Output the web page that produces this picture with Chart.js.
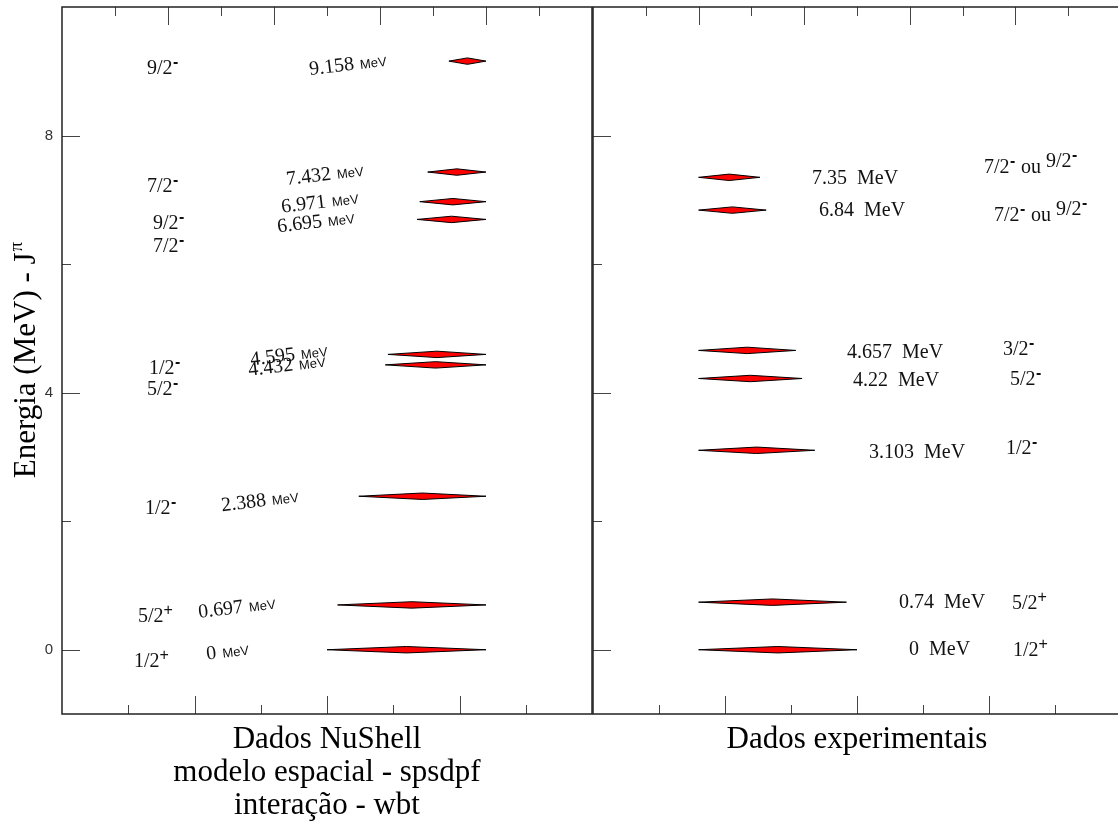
<!DOCTYPE html>
<html>
<head>
<meta charset="utf-8">
<script src="https://cdn.jsdelivr.net/npm/chart.js@4.4.1/dist/chart.umd.min.js"></script>
<style>
  html, body { margin: 0; padding: 0; background: #fff; overflow: hidden; }
  #wrap { position: relative; width: 1118px; height: 823px; }
  #calc { position: absolute; left: 0; top: 0; }
  #exp { position: absolute; left: 590px; top: 0; }
</style>
</head>
<body>
<div id="wrap">
  <canvas id="calc" width="594" height="823"></canvas>
  <canvas id="exp" width="540" height="823"></canvas>
</div>
<script>
// NuShell levels (spsdpf / wbt)
const calcEnergy = [0, 0.697, 2.388, 4.432, 4.595, 6.695, 6.971, 7.432, 9.158];
const calcSpin = ["1/2+", "5/2+", "1/2-", "5/2-", "1/2-", "7/2-", "9/2-", "7/2-", "9/2-"];
const calcStart = [5.0, 5.2, 5.6, 6.1, 6.15, 6.7, 6.75, 6.9, 7.3];
const calcEnd = [8, 8, 8, 8, 8, 8, 8, 8, 8];

// experimental levels
const expEnergy = [0, 0.74, 3.103, 4.22, 4.657, 6.84, 7.35];
const expSpin = ["1/2+", "5/2+", "1/2-", "5/2-", "3/2-", "7/2- ou 9/2-", "7/2- ou 9/2-"];
const expStart = [2, 2, 2, 2, 2, 2, 2];
const expEnd = [5.0, 4.8, 4.2, 3.96, 3.84, 3.28, 3.16];

// y axis labels shown
const yLabels = [0, 4, 8];

// label placement (px from chart area left, px from level line)
const calcSpinX = [72, 76, 83, 85, 87, 91, 91, 85, 85];
const calcSpinDy = [10, 10, 11, 23, 13, 26, 20, 13, 6];
const calcTextX = [145, 137, 160, 187, 189, 216, 220, 225, 248];
const calcTextDy = [10, 13, 15, 11, 11, 13, 11, 13, 14];
const expTextX = [316, 306, 276, 260, 254, 226, 219];
const expTextDy = [0, 1, 2, 2, 2, 1, 1];
const expSpinX = [420, 419, 413, 417, 410, 401, 391];
const expSpinDy = [-1, 0, -3, 0, -2, 4, -11];

const HALF = 0.05; // half thickness of the level diamonds (MeV)
const SERIF = "'Liberation Serif', 'Times New Roman', serif";
const SANS = "'Liberation Sans', Arial, sans-serif";

function levelDatasets(energies, starts, ends) {
  return energies.map((e, i) => {
    const x0 = starts[i], x1 = ends[i], xm = (x0 + x1) / 2;
    return {
      data: [
        { x: x0, y: e }, { x: xm, y: e + HALF }, { x: x1, y: e },
        { x: xm, y: e - HALF }, { x: x0, y: e }
      ],
      borderColor: "#000",
      borderWidth: 1,
      backgroundColor: "#ff0000",
      fill: "shape",
      pointRadius: 0,
      tension: 0
    };
  });
}

// draw "7/2-" style label: base text then raised sign
function drawSpin(ctx, x, baseline, str) {
  const parts = str.split(" ou ");
  let cx = x;
  parts.forEach((p, k) => {
    const sign = p.slice(-1);
    const base = p.slice(0, -1);
    const raise = k > 0 ? 6 : 0;
    ctx.font = "20px " + SERIF;
    ctx.fillText(base, cx, baseline - raise);
    cx += ctx.measureText(base).width;
    if (sign === "+") {
      ctx.font = "16px " + SANS;
      ctx.fillText("+", cx, baseline - raise - 7);
      cx += ctx.measureText("+").width;
    } else {
      ctx.font = "bold 16px " + SANS;
      ctx.fillText("-", cx + 0.5, baseline - raise - 7);
      cx += ctx.measureText("-").width + 1;
    }
    if (k < parts.length - 1) {
      ctx.font = "20px " + SERIF;
      ctx.fillText(" ou ", cx, baseline);
      cx += ctx.measureText(" ou ").width;
    }
  });
}

function drawFrameTicks(chart) {
  const { ctx, chartArea: a, scales } = chart;
  const xt = scales.x, xb = scales.xb, y = scales.y;
  ctx.save();
  ctx.strokeStyle = "#444";
  ctx.lineWidth = 1;
  ctx.beginPath();
  for (let v = xt.min + 1; v < xt.max; v++) {
    const px = Math.round(xt.getPixelForValue(v)) + 0.5;
    ctx.moveTo(px, a.top);
    ctx.lineTo(px, a.top + (v % 2 === 0 ? 18 : 9));
  }
  for (let v = xb.min + 1; v < xb.max; v++) {
    const px = Math.round(xb.getPixelForValue(v)) + 0.5;
    ctx.moveTo(px, a.bottom);
    ctx.lineTo(px, a.bottom - (v % 2 === 0 ? 18 : 9));
  }
  y.ticks.forEach(t => {
    if (t.value <= y.min || t.value >= y.max) return;
    const py = Math.round(y.getPixelForValue(t.value)) + 0.5;
    ctx.moveTo(a.left, py);
    ctx.lineTo(a.left + (t.value % 4 === 0 ? 18 : 9), py);
  });
  ctx.stroke();
  ctx.strokeStyle = "#222";
  ctx.lineWidth = 1.5;
  ctx.strokeRect(a.left, a.top, a.width, a.height);
  ctx.restore();
}

const calcText = {
  id: "calcText",
  afterDraw(chart) {
    drawFrameTicks(chart);
    const { ctx, chartArea: a, scales } = chart;
    const y = scales.y;
    ctx.save();
    ctx.fillStyle = "#111";
    ctx.textAlign = "left";
    ctx.textBaseline = "alphabetic";
    calcEnergy.forEach((e, i) => {
      const py = y.getPixelForValue(e);
      drawSpin(ctx, a.left + calcSpinX[i], py + calcSpinDy[i] + 7, calcSpin[i]);
      // tilted energy label
      ctx.save();
      ctx.translate(a.left + calcTextX[i], py + calcTextDy[i]);
      ctx.rotate(-7 * Math.PI / 180);
      ctx.font = "20px " + SERIF;
      const num = String(e);
      ctx.fillText(num, 0, 0);
      const w = ctx.measureText(num).width;
      ctx.font = "13px " + SANS;
      ctx.fillText("MeV", w + 6, 0);
      ctx.restore();
    });
    // y title
    ctx.save();
    ctx.translate(35, (a.top + a.bottom) / 2);
    ctx.rotate(-Math.PI / 2);
    ctx.fillStyle = "#000";
    ctx.font = "31px " + SERIF;
    const base = "Energia (MeV) - J";
    const wb = ctx.measureText(base).width;
    ctx.font = "19px " + SERIF;
    const wp = ctx.measureText("\u03c0").width;
    const start = -(wb + wp) / 2;
    ctx.font = "31px " + SERIF;
    ctx.fillText(base, start, 0);
    ctx.font = "19px " + SERIF;
    ctx.fillText("\u03c0", start + wb + 1, -13);
    ctx.restore();
    // x titles
    ctx.fillStyle = "#000";
    ctx.textAlign = "center";
    ctx.font = "31px " + SERIF;
    const cx = (a.left + a.right) / 2;
    ["Dados NuShell", "modelo espacial - spsdpf", "intera\u00e7\u00e3o - wbt"].forEach((t, k) => {
      ctx.fillText(t, cx, 748 + k * 33);
    });
    ctx.restore();
  }
};

const expText = {
  id: "expText",
  afterDraw(chart) {
    drawFrameTicks(chart);
    const { ctx, chartArea: a, scales } = chart;
    const y = scales.y;
    ctx.save();
    ctx.fillStyle = "#111";
    ctx.textAlign = "left";
    expEnergy.forEach((e, i) => {
      const py = y.getPixelForValue(e);
      ctx.font = "20px " + SERIF;
      ctx.textBaseline = "middle";
      ctx.fillText(String(e) + "  MeV", a.left + expTextX[i], py + expTextDy[i]);
      ctx.textBaseline = "alphabetic";
      drawSpin(ctx, a.left + expSpinX[i], py + expSpinDy[i] + 7, expSpin[i]);
    });
    ctx.fillStyle = "#000";
    ctx.textAlign = "center";
    ctx.font = "31px " + SERIF;
    ctx.fillText("Dados experimentais", (a.left + a.right) / 2, 748);
    ctx.restore();
  }
};

function makeChart(id, datasets, showY, pad, plugin) {
  return new Chart(document.getElementById(id), {
    type: "line",
    data: { datasets },
    options: {
      responsive: false,
      animation: false,
      layout: { padding: pad, autoPadding: false },
      plugins: { legend: { display: false }, tooltip: { enabled: false } },
      scales: {
        x: { type: "linear", position: "top", min: 0, max: 10, display: false },
        xb: { type: "linear", position: "bottom", min: 0, max: 8, display: false },
        y: {
          type: "linear", min: -1, max: 10, display: showY,
          afterFit: s => {
            s.width = showY ? 62 : 0;
            s.paddingTop = 0;
            s.paddingBottom = 0;
          },
          grid: { drawOnChartArea: false, drawTicks: false },
          border: { display: false },
          ticks: {
            stepSize: 2, padding: 9, color: "#333",
            font: { family: "'Liberation Sans', Arial, sans-serif", size: 15 },
            callback: v => (yLabels.includes(v) ? String(v) : "")
          }
        }
      }
    },
    plugins: [plugin]
  });
}

makeChart("calc", levelDatasets(calcEnergy, calcStart, calcEnd), true,
  { left: 0, top: 7, right: 2, bottom: 109 }, calcText);
makeChart("exp", levelDatasets(expEnergy, expStart, expEnd), false,
  { left: 3, top: 7, right: 9, bottom: 109 }, expText);
</script>
</body>
</html>
